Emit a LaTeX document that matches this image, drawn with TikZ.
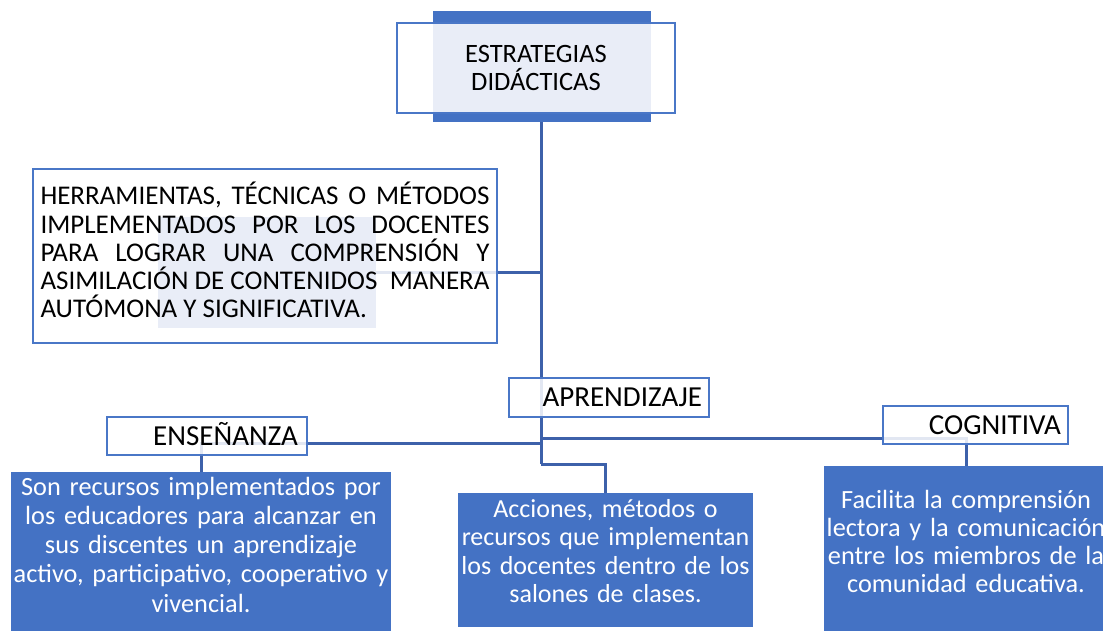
\documentclass[tikz,border=0pt]{standalone}
\usepackage{fontspec}
\setmainfont{Carlito}
\definecolor{boxblue}{HTML}{4472C4}
\definecolor{linkblue}{HTML}{3D61AA}
\definecolor{edgeblue}{HTML}{4A77C7}
\definecolor{paleblue}{HTML}{E9EDF7}
\pgfdeclarelayer{bg}
\pgfsetlayers{bg,main}
\tikzset{
  link/.style={draw=linkblue, line width=3pt},
  labelbox/.style={draw=edgeblue, line width=2.6pt, fill=white, fill opacity=0.85, text opacity=1,
    font=\fontsize{29}{34}\selectfont, text height=18.3pt, text depth=0pt,
    inner sep=0pt, align=right},
  infobox/.style={fill=boxblue, text=white, inner sep=0pt, align=center, anchor=north},
  framebox/.style={draw=edgeblue, line width=2.2pt, inner sep=0pt},
}
\begin{document}
\begin{tikzpicture}[x=1pt, y=-1pt]
\useasboundingbox (0,0) rectangle (1103,631);

% title
\node[framebox, minimum width=278pt, minimum height=90pt, text width=278pt, align=center,
  font=\fontsize{26.5}{28}\selectfont, text height=16.8pt, text depth=28pt] (estr) at (536,68)
  {ESTRATEGIAS\\DIDÁCTICAS};

% definition
\node[framebox, minimum width=464pt, minimum height=174pt,
  font=\fontsize{27}{28.25}\selectfont, text height=20pt, text depth=122pt] (def) at (265,256)
  {\begin{minipage}[t]{449pt}
   \hbox to\linewidth{HERRAMIENTAS,\hfill TÉCNICAS\hfill O\hfill MÉTODOS}
   \hbox to\linewidth{IMPLEMENTADOS\hfill POR\hfill LOS\hfill DOCENTES}
   \hbox to\linewidth{PARA\hfill LOGRAR\hfill UNA\hfill COMPRENSIÓN\hfill Y}
   \hbox to\linewidth{ASIMILACIÓN DE CONTENIDOS\hfill MANERA}
   \hbox{AUTÓMONA Y SIGNIFICATIVA.}
   \end{minipage}};

% labels
\node[labelbox, minimum width=200pt, minimum height=39pt, text width=186pt] (aprend) at (609,397.5) {APRENDIZAJE};
\node[labelbox, minimum width=200pt, minimum height=38pt, text width=182pt] (ensen) at (207,436) {ENSEÑANZA};
\node[labelbox, minimum width=185pt, minimum height=38pt, text width=171pt] (cogn) at (975.5,425) {COGNITIVA};

% info boxes
\node[infobox, text width=380pt, font=\fontsize{26.3}{29.25}\selectfont,
  text height=23pt, text depth=145pt] (ensinfo) at (201,472)
  {Son recursos implementados por\\ los educadores para alcanzar en\\ sus discentes un aprendizaje\\ activo, participativo, cooperativo y\\ vivencial.};
\node[infobox, text width=295pt, font=\fontsize{26}{28.5}\selectfont,
  text height=24pt, text depth=110pt] (accinfo) at (605.5,493)
  {Acciones, métodos o\\ recursos que implementan\\ los docentes dentro de los\\ salones de clases.};
\node[infobox, text width=284pt, font=\fontsize{26.3}{28}\selectfont,
  text height=42pt, text depth=174pt] (coginfo) at (966,466)
  {Facilita la comprensión\\ lectora y la comunicación\\ entre los miembros de la\\ comunidad educativa.};

\begin{pgfonlayer}{bg}
  \fill[white] (0,0) rectangle (1103,631);
  \coordinate (trunk) at (541,113);
  \coordinate (hub) at (541,464);
  \coordinate (defend) at (376,272.5);
  \coordinate (jens) at (541,443);
  \coordinate (jcog) at (541,438);
  \draw[link] (trunk) -- (hub);
  \draw[link] (defend) -- (defend -| trunk);
  \draw[link] (jens) -| (ensinfo.north);
  \draw[link] (jcog) -| (coginfo.north);
  \draw[link] (hub) -| (accinfo.north);
  % title decoration
  \fill[paleblue] (433,11) rectangle (651,122);
  \fill[boxblue] (433,11) rectangle (651,22);
  \fill[boxblue] (433,113) rectangle (651,122);
  % definition background
  \fill[white, opacity=0.85] (def.north west) rectangle (def.south east);
  \fill[paleblue] (158,217) rectangle (376,328);
\end{pgfonlayer}
\end{tikzpicture}
\end{document}
